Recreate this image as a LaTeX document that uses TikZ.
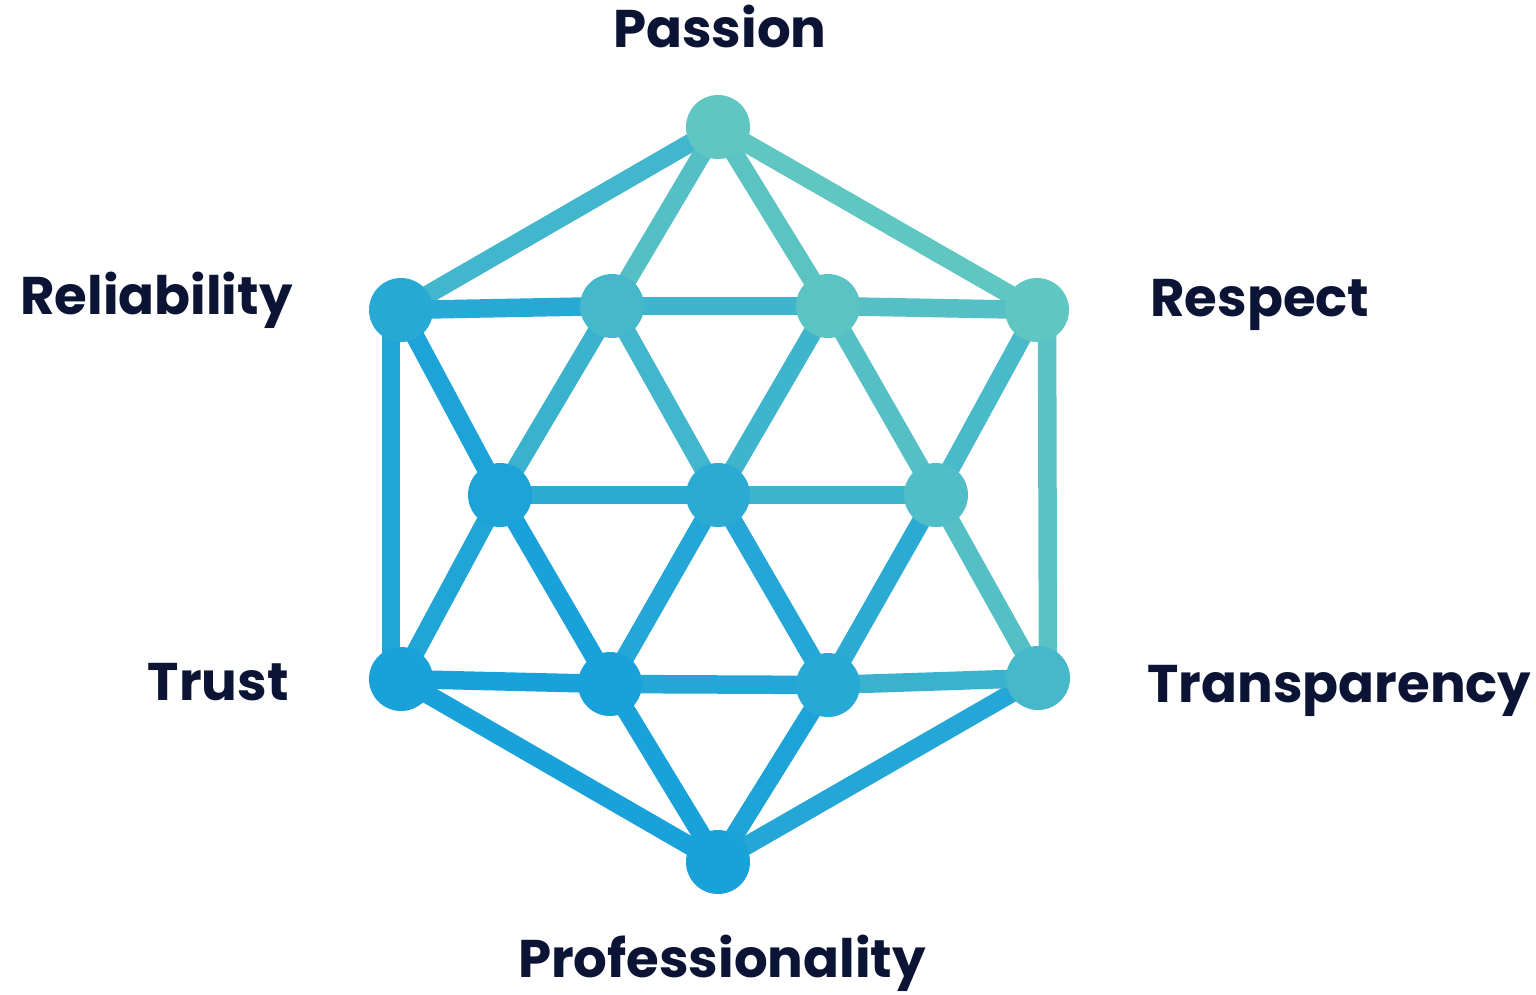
\documentclass[tikz,border=0pt]{standalone}
\usepackage{fontspec}
\setmainfont{Poppins}
\definecolor{netblue}{HTML}{159FDB}
\definecolor{netteal}{HTML}{5FC6C2}
\definecolor{labelink}{HTML}{0B1434}

\begin{document}
\begin{tikzpicture}[x=0.5pt,y=-0.5pt,
    dot/.style={circle,inner sep=0pt,minimum size=32pt},
    link/.style={line width=9.25pt},
    value/.style={inner sep=0pt,text=labelink,font=\bfseries\fontsize{26.5}{30}\selectfont}]
    \pgfdeclarelayer{background}
    \pgfsetlayers{background,main}
    \useasboundingbox (0,0) rectangle (1536,995);
\foreach \n/\x/\y/\p in {passion/718/127/100, reliab/401/310/25, respect/1037/310/100,
    trust/401/679/5, transp/1038/678/65, profess/718/862/5,
    up-l/612/306/65, up-r/828/306/95, mid-l/500/495/10, mid-c/718/495/30,
    mid-r/936/495/80, low-l/610/684/5, low-r/828/685/25}
  \node[dot, fill=netteal!\p!netblue] (\n) at (\x,\y) {};
\begin{pgfonlayer}{background}
\foreach \a/\b/\p in {passion/respect/100, passion/reliab/60,
    trust/profess/5, profess/transp/20,
    passion/up-l/85, passion/up-r/95, reliab/up-l/25, up-l/up-r/55, up-r/respect/85,
    reliab/mid-l/10, up-l/mid-l/50, up-l/mid-c/60, up-r/mid-c/55, up-r/mid-r/85, respect/mid-r/70,
    mid-l/mid-c/30, mid-c/mid-r/55,
    mid-l/trust/15, mid-l/low-l/5, mid-c/low-l/20, mid-c/low-r/20, mid-r/low-r/30, mid-r/transp/85,
    trust/low-l/5, low-l/low-r/20, low-r/transp/50, low-l/profess/5, low-r/profess/10}
  \draw[link, draw=netteal!\p!netblue] (\a.center) -- (\b.center);
% the two sides of the hexagon sit a bit outside the dots
\draw[link, draw=netteal!15!netblue] ([xshift=-5pt]reliab.center) -- ([xshift=-5pt]trust.center);
\draw[link, draw=netteal!90!netblue] ([xshift=5pt]respect.center) -- ([xshift=5pt]transp.center);
\end{pgfonlayer}
\node[value, anchor=base] (passion-text) at (720,48) {Passion};
\node[value, anchor=base east] (reliab-text) at (293,314) {Reliability};
\node[value, anchor=base west] (respect-text) at (1150,316) {Respect};
\node[value, anchor=base east] (trust-text) at (289,700) {Trust};
\node[value, anchor=base west] (transp-text) at (1147,702) {Transparency};
\node[value, anchor=base] (profess-text) at (722,977) {Professionality};
\end{tikzpicture}
\end{document}
